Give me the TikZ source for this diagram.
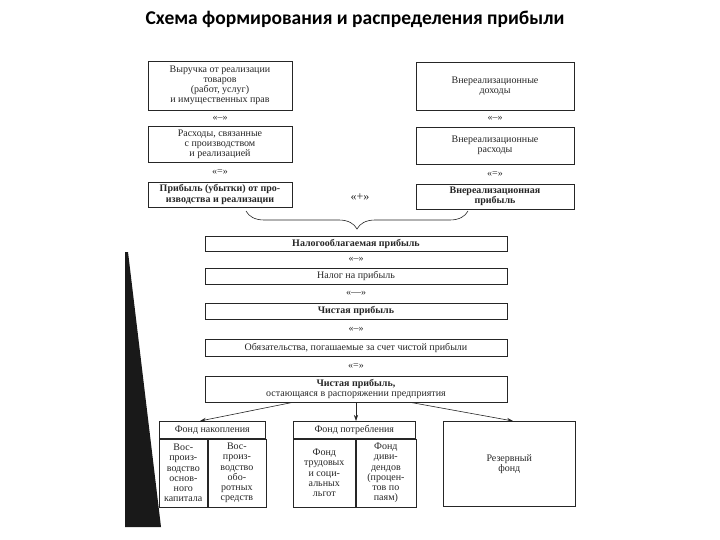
\documentclass[tikz,border=0pt]{standalone}
\usepackage{fontspec}
\setmainfont{Liberation Serif}
\newfontfamily\titlefont{Carlito}
\usepackage{tikz}
\usetikzlibrary{positioning,arrows.meta,calc,decorations.pathreplacing}
\definecolor{inkgray}{HTML}{262626}
\tikzset{
  box/.style={draw=inkgray,line width=0.6pt,align=center,inner sep=1pt,text=inkgray,font=\fontsize{10}{10.2}\selectfont},
  boldbox/.style={box,font=\fontsize{10}{10.2}\selectfont\bfseries},
  sign/.style={inner sep=0pt,text=inkgray,font=\fontsize{10}{10.2}\selectfont},
  arr/.style={-{Stealth[length=6pt,width=4pt]},line width=0.6pt,draw=inkgray}
}

\begin{document}
\begin{tikzpicture}[x=1pt,y=-1pt]
\useasboundingbox (0,0) rectangle (720,540);
\fill[white] (0,0) rectangle (720,540);
\fill[black!90] (125,252) -- (128,252) -- (161,527) -- (125,527) -- cycle;

\node[font=\titlefont\fontsize{19.5}{22}\selectfont\bfseries] (title) at (355,19) {Схема формирования и распределения прибыли};

% left column
\node[box, minimum width=144pt, minimum height=49pt] (sales) at (220,85.5) {Выручка от реализации\\товаров\\(работ, услуг)\\и имущественных прав};
\node[box, minimum width=144pt, minimum height=36pt] (costs) at (220,144) {Расходы, связанные\\с производством\\и реализацией};
\node[boldbox, minimum width=144pt, minimum height=25pt] (prodprofit) at (220,194.5) {Прибыль (убытки) от про-\\изводства и реализации};
\node[sign] (s1) at ($(sales.south)!0.5!(costs.north)$) {«–»};
\node[sign] (s2) at ($(costs.south)!0.5!(prodprofit.north)$) {«=»};

% right column
\node[box, minimum width=158pt, minimum height=48pt] (otherinc) at (495,86) {Внереализационные\\доходы};
\node[box, minimum width=158pt, minimum height=37pt] (otherexp) at (495,145.5) {Внереализационные\\расходы};
\node[boldbox, minimum width=158pt, minimum height=25pt] (otherprofit) at (495,196.5) {Внереализационная\\прибыль};
\node[sign] (s3) at ($(otherinc.south)!0.5!(otherexp.north)$) {«–»};
\node[sign] (s4) at ($(otherexp.south)!0.5!(otherprofit.north)$) {«=»};

\node[sign, font=\fontsize{12}{13}\selectfont] (plus) at (360,197) {«+»};

% brace
\coordinate (bl) at (246,211);
\coordinate (br) at (468,211);
\draw[inkgray, line width=0.6pt, decorate, decoration={brace, mirror, amplitude=18pt}] (bl) -- (br);

% centre column
\node[boldbox, minimum width=302pt, minimum height=15pt] (taxable) at (356,243.5) {Налогооблагаемая прибыль};
\node[box, minimum width=302pt, minimum height=16pt] (tax) at (356,276) {Налог на прибыль};
\node[boldbox, minimum width=302pt, minimum height=16pt] (net) at (356,311) {Чистая прибыль};
\node[box, minimum width=302pt, minimum height=17pt] (oblig) at (356,347.5) {Обязательства, погашаемые за счет чистой прибыли};
\node[box, minimum width=302pt, minimum height=26pt] (retained) at (356,389) {\textbf{Чистая прибыль,}\\остающаяся в распоряжении предприятия};
\node[sign] (s5) at ($(taxable.south)!0.5!(tax.north)$) {«–»};
\node[sign] (s6) at ($(tax.south)!0.5!(net.north)$) {«—»};
\node[sign] (s7) at ($(net.south)!0.5!(oblig.north)$) {«–»};
\node[sign] (s8) at ($(oblig.south)!0.5!(retained.north)$) {«=»};

% funds
\node[box, anchor=north west, minimum width=106pt, minimum height=17pt] (accum) at (159,421) {Фонд накопления};
\node[box, anchor=north west, minimum width=48pt, minimum height=68pt] (accumfix) at (accum.south west) {Вос-\\произ-\\водство\\основ-\\ного\\капитала};
\node[box, anchor=north west, minimum width=58pt, minimum height=68pt] (accumcur) at (accumfix.north east) {Вос-\\произ-\\водство\\обо-\\ротных\\средств};

\node[box, anchor=north west, minimum width=122pt, minimum height=17pt] (cons) at (293,421) {Фонд потребления};
\node[box, anchor=north west, minimum width=62pt, minimum height=68pt] (conssoc) at (cons.south west) {Фонд\\трудовых\\и соци-\\альных\\льгот};
\node[box, anchor=north west, minimum width=60pt, minimum height=68pt] (consdiv) at (conssoc.north east) {Фонд\\диви-\\дендов\\(процен-\\тов по\\паям)};

\node[box, anchor=north west, minimum width=132pt, minimum height=85pt] (reserve) at (443,421) {Резервный\\фонд};

\draw[arr] ($(retained.south)+(-63,0)$) -- ($(accum.north west)+(41,0)$);
\draw[arr] (retained.south) -- (retained.south |- cons.north);
\draw[arr] ($(retained.south)+(54,0)$) -- ($(reserve.north west)+(70,0)$);
\end{tikzpicture}
\end{document}
